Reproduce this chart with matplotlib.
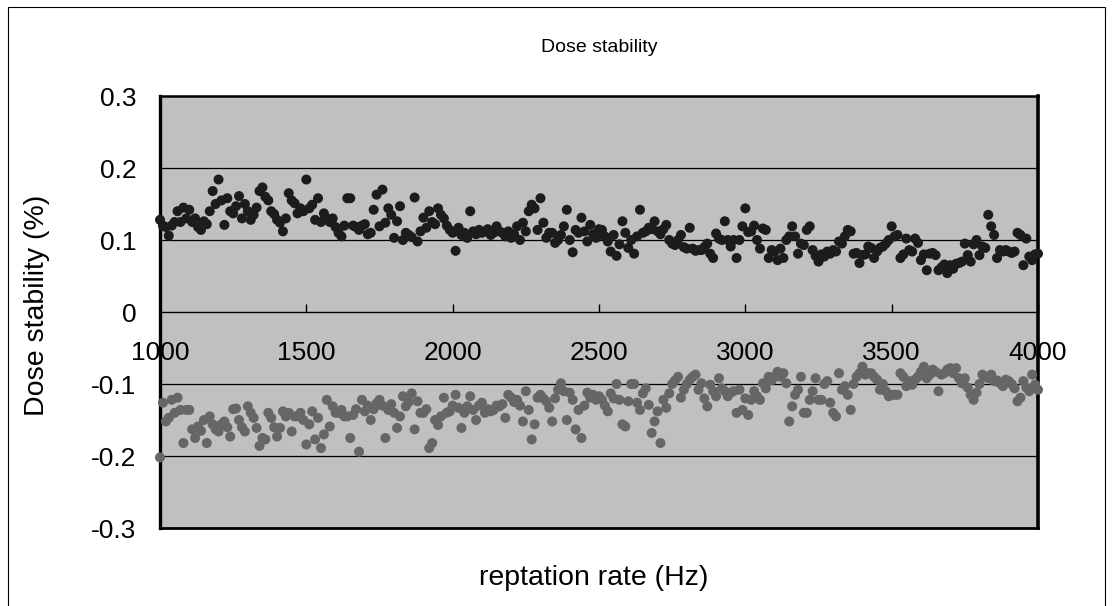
import numpy as np
import matplotlib
matplotlib.use("Agg")
import matplotlib.pyplot as plt
from matplotlib.patches import Rectangle
from matplotlib.ticker import FuncFormatter

plt.rcParams['font.family'] = ['Liberation Sans', 'DejaVu Sans']
plt.rcParams['axes.unicode_minus'] = False

title = "Dose stability"
xlabel = "reptation rate (Hz)"
ylabel = "Dose stability (%)"

x_start, x_step = 1000, 10

upper_series = [
    0.128, 0.120, 0.118, 0.106, 0.120, 0.125, 0.140, 0.125, 0.145, 0.130,
    0.142, 0.125, 0.130, 0.118, 0.114, 0.126, 0.122, 0.140, 0.168, 0.150,
    0.184, 0.155, 0.121, 0.158, 0.140, 0.137, 0.147, 0.161, 0.130, 0.150,
    0.140, 0.128, 0.135, 0.145, 0.168, 0.173, 0.160, 0.155, 0.140, 0.136,
    0.128, 0.124, 0.112, 0.130, 0.165, 0.155, 0.151, 0.137, 0.144, 0.140,
    0.184, 0.144, 0.149, 0.128, 0.158, 0.125, 0.137, 0.130, 0.125, 0.130,
    0.118, 0.110, 0.105, 0.120, 0.158, 0.158, 0.120, 0.118, 0.114, 0.120,
    0.122, 0.108, 0.110, 0.142, 0.163, 0.119, 0.170, 0.124, 0.144, 0.135,
    0.103, 0.126, 0.147, 0.100, 0.110, 0.107, 0.104, 0.159, 0.098, 0.112,
    0.131, 0.117, 0.140, 0.125, 0.122, 0.144, 0.135, 0.130, 0.120, 0.114,
    0.110, 0.085, 0.117, 0.107, 0.110, 0.103, 0.140, 0.112, 0.108, 0.114,
    0.110, 0.112, 0.115, 0.107, 0.110, 0.119, 0.112, 0.110, 0.105, 0.112,
    0.103, 0.108, 0.119, 0.100, 0.124, 0.112, 0.140, 0.149, 0.144, 0.114,
    0.158, 0.124, 0.103, 0.110, 0.110, 0.096, 0.100, 0.107, 0.119, 0.142,
    0.100, 0.083, 0.114, 0.110, 0.131, 0.112, 0.098, 0.121, 0.108, 0.103,
    0.115, 0.114, 0.105, 0.098, 0.084, 0.107, 0.078, 0.094, 0.126, 0.110,
    0.089, 0.100, 0.081, 0.105, 0.142, 0.110, 0.112, 0.117, 0.115, 0.126,
    0.112, 0.108, 0.115, 0.121, 0.100, 0.095, 0.093, 0.100, 0.107, 0.090,
    0.088, 0.117, 0.088, 0.085, 0.086, 0.086, 0.090, 0.095, 0.081, 0.075,
    0.109, 0.102, 0.100, 0.126, 0.100, 0.091, 0.100, 0.075, 0.100, 0.119,
    0.144, 0.111, 0.112, 0.120, 0.100, 0.088, 0.116, 0.114, 0.075, 0.086,
    0.084, 0.072, 0.088, 0.075, 0.100, 0.105, 0.119, 0.105, 0.081, 0.095,
    0.093, 0.114, 0.119, 0.086, 0.078, 0.070, 0.080, 0.077, 0.084, 0.081,
    0.086, 0.084, 0.098, 0.095, 0.105, 0.114, 0.112, 0.081, 0.082, 0.068,
    0.079, 0.080, 0.091, 0.089, 0.075, 0.084, 0.089, 0.091, 0.095, 0.100,
    0.119, 0.105, 0.107, 0.075, 0.080, 0.102, 0.086, 0.084, 0.102, 0.096,
    0.072, 0.080, 0.058, 0.081, 0.082, 0.079, 0.058, 0.062, 0.066, 0.054,
    0.065, 0.060, 0.067, 0.068, 0.070, 0.095, 0.079, 0.070, 0.094, 0.100,
    0.079, 0.091, 0.089, 0.135, 0.119, 0.107, 0.075, 0.086, 0.084, 0.086,
    0.084, 0.082, 0.084, 0.110, 0.107, 0.065, 0.102, 0.077, 0.072, 0.080,
    0.081,
]

lower_series = [
    -0.202, -0.126, -0.152, -0.147, -0.122, -0.140, -0.119, -0.136, -0.182, -0.136,
    -0.136, -0.163, -0.175, -0.159, -0.165, -0.150, -0.182, -0.145, -0.156, -0.163,
    -0.166, -0.156, -0.152, -0.160, -0.173, -0.135, -0.134, -0.150, -0.160, -0.166,
    -0.131, -0.140, -0.147, -0.161, -0.186, -0.175, -0.177, -0.140, -0.147, -0.160,
    -0.173, -0.161, -0.138, -0.145, -0.140, -0.166, -0.145, -0.145, -0.140, -0.150,
    -0.184, -0.156, -0.138, -0.177, -0.147, -0.189, -0.170, -0.122, -0.159, -0.131,
    -0.140, -0.140, -0.136, -0.145, -0.145, -0.175, -0.143, -0.135, -0.194, -0.122,
    -0.138, -0.130, -0.150, -0.135, -0.127, -0.122, -0.130, -0.175, -0.136, -0.128,
    -0.140, -0.161, -0.145, -0.117, -0.131, -0.125, -0.113, -0.163, -0.124, -0.140,
    -0.140, -0.135, -0.189, -0.182, -0.150, -0.157, -0.145, -0.119, -0.140, -0.138,
    -0.130, -0.115, -0.133, -0.161, -0.140, -0.131, -0.117, -0.136, -0.150, -0.130,
    -0.126, -0.140, -0.135, -0.138, -0.136, -0.130, -0.131, -0.128, -0.147, -0.115,
    -0.119, -0.125, -0.122, -0.130, -0.152, -0.110, -0.136, -0.177, -0.156, -0.119,
    -0.115, -0.120, -0.124, -0.133, -0.152, -0.120, -0.108, -0.099, -0.110, -0.150,
    -0.112, -0.122, -0.163, -0.136, -0.175, -0.130, -0.112, -0.119, -0.115, -0.122,
    -0.117, -0.122, -0.130, -0.138, -0.113, -0.120, -0.100, -0.122, -0.156, -0.159,
    -0.124, -0.100, -0.100, -0.126, -0.136, -0.113, -0.106, -0.129, -0.168, -0.152,
    -0.138, -0.182, -0.122, -0.133, -0.113, -0.100, -0.095, -0.090, -0.119, -0.108,
    -0.100, -0.094, -0.090, -0.087, -0.108, -0.099, -0.120, -0.131, -0.101, -0.110,
    -0.117, -0.092, -0.106, -0.110, -0.117, -0.112, -0.110, -0.140, -0.108, -0.136,
    -0.120, -0.143, -0.122, -0.110, -0.117, -0.122, -0.099, -0.106, -0.090, -0.095,
    -0.090, -0.083, -0.090, -0.085, -0.099, -0.152, -0.131, -0.115, -0.108, -0.090,
    -0.140, -0.140, -0.122, -0.110, -0.092, -0.122, -0.122, -0.100, -0.096, -0.126,
    -0.140, -0.145, -0.085, -0.108, -0.103, -0.115, -0.136, -0.100, -0.090, -0.085,
    -0.076, -0.087, -0.085, -0.085, -0.090, -0.094, -0.108, -0.100, -0.110, -0.117,
    -0.115, -0.115, -0.115, -0.085, -0.090, -0.103, -0.096, -0.101, -0.094, -0.090,
    -0.083, -0.076, -0.092, -0.087, -0.080, -0.083, -0.110, -0.087, -0.085, -0.080,
    -0.078, -0.085, -0.078, -0.092, -0.099, -0.092, -0.105, -0.115, -0.122, -0.112,
    -0.100, -0.087, -0.090, -0.092, -0.087, -0.096, -0.095, -0.099, -0.103, -0.094,
    -0.096, -0.100, -0.106, -0.124, -0.119, -0.096, -0.105, -0.110, -0.087, -0.101,
    -0.108,
]

x_ticks = [1000, 1500, 2000, 2500, 3000, 3500, 4000]
y_ticks = [-0.3, -0.2, -0.1, 0, 0.1, 0.2, 0.3]

x_up = x_start + x_step * np.arange(len(upper_series))
x_lo = x_start + x_step * np.arange(len(lower_series))

W, H = 1113, 606
fig = plt.figure(figsize=(W / 100, H / 100), dpi=100)
fig.patch.set_facecolor('white')

# outer chart frame
fig.patches.append(Rectangle((8 / W, -0.01), (1105 - 8) / W, 1 - 7 / H + 0.01,
                             transform=fig.transFigure, fill=False,
                             edgecolor='black', linewidth=0.8))

ax = fig.add_axes([160 / W, 1 - 528 / H, (1038 - 160) / W, (528 - 96) / H])
ax.set_facecolor('#c0c0c0')
ax.set_xlim(1000, 4000)
ax.set_ylim(-0.3, 0.3)

for g in [-0.2, -0.1, 0.1, 0.2]:
    ax.axhline(g, color='black', linewidth=0.9, zorder=1)

ax.scatter(x_up, upper_series, s=52, color='#1c1c1c', edgecolors='none', zorder=3, clip_on=False)
ax.scatter(x_lo, lower_series, s=52, color='#666666', edgecolors='none', zorder=3, clip_on=False)

# x axis crosses at zero
ax.spines['bottom'].set_position(('data', 0))
ax.spines['bottom'].set_linewidth(1.0)
ax.spines['left'].set_linewidth(2.4)
ax.spines['top'].set_linewidth(1.8)
ax.spines['right'].set_linewidth(2.6)
ax.axhline(-0.3, color='black', linewidth=2.0, clip_on=False, zorder=4)

ax.set_xticks(x_ticks)
ax.set_xticklabels([str(t) for t in x_ticks])
ax.tick_params(axis='x', direction='in', length=6, width=1, labelsize=19, pad=21)
ax.set_yticks(y_ticks)
ax.yaxis.set_major_formatter(FuncFormatter(lambda v, p: '%g' % round(v, 2)))
ax.tick_params(axis='y', length=0, labelsize=19, pad=17)

fig.text(599 / W, 1 - 47 / H, title, ha='center', va='center', fontsize=14)
fig.text(594 / W, 1 - 578 / H, xlabel, ha='center', va='center', fontsize=20.5)
fig.text(37 / W, 1 - 305 / H, ylabel, ha='center', va='center', rotation=90, fontsize=20.5)

fig.savefig('out.png', dpi=100)
